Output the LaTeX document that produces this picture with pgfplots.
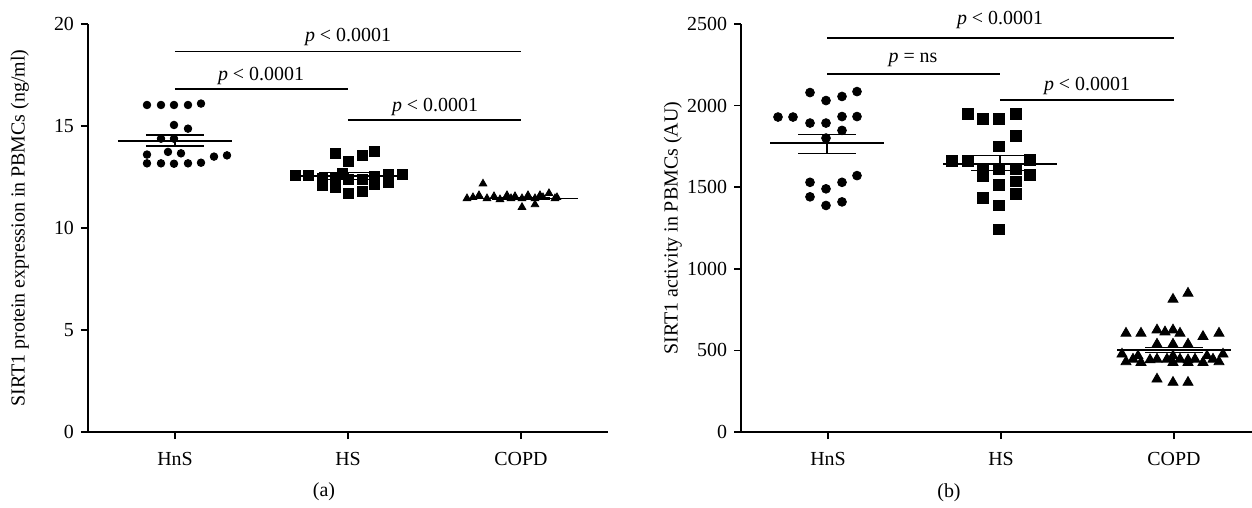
\documentclass[border=0pt]{standalone}
\usepackage{fontspec}
\setmainfont{Liberation Serif}
\usepackage{pgfplots}
\pgfplotsset{compat=1.18}

% x positions are in the panel's own units: HnS=175, HS=348, COPD=521
\pgfplotstableread{
x y
147 16.03
161 16.03
174 16.03
188 16.03
201 16.10
174 15.05
188 14.87
161 14.38
174 14.38
168 13.73
181 13.66
147 13.60
214 13.50
227 13.56
147 13.17
161 13.17
174 13.15
188 13.17
201 13.20
}\protHnS
\pgfplotstableread{
x y
295 12.60
308 12.60
322 12.45
322 12.10
335 13.65
335 12.42
335 11.97
342 12.66
348 13.28
348 12.38
348 11.70
362 13.58
362 12.38
362 11.81
374 13.77
374 12.55
374 12.14
388 12.63
388 12.22
402 12.63
}\protHS
\pgfplotstableread{
x y
467 11.45
473 11.50
479 11.60
483 12.17
487 11.45
494 11.55
500 11.40
507 11.60
511 11.45
515 11.55
522 11.45
522 11.02
528 11.60
535 11.45
535 11.15
540 11.60
543 11.50
549 11.70
555 11.45
557 11.50
}\protCOPD
\pgfplotstableread{
x y
157 2080
173 2031
189 2056
204 2086
125 1930
140 1930
157 1893
173 1893
189 1933
204 1933
189 1848
173 1801
157 1530
173 1490
189 1530
204 1571
157 1441
173 1388
189 1410
}\actHnS
\pgfplotstableread{
x y
315 1950
330 1917
346 1917
363 1950
363 1815
346 1750
299 1663
315 1663
377 1669
330 1608
346 1612
363 1612
330 1567
377 1577
346 1516
363 1536
363 1459
330 1435
346 1388
346 1241
}\actHS
\pgfplotstableread{
x y
520 813
535 850
473 605
488 605
504 625
512 613
520 625
527 605
550 585
566 605
504 538
520 538
535 538
469 477
480 446
485 466
497 442
504 446
514 446
520 466
527 446
535 442
542 446
554 466
560 446
570 477
473 430
488 426
520 426
535 426
550 426
566 430
504 324
520 304
535 304
}\actCOPD

\pgfplotsset{
  dotplot/.style={
    width=260bp, height=204bp, scale only axis,
    axis lines=left, axis line style={-, line width=0.75bp},
    xmin=88, xmax=608, xtick={175,348,521}, xticklabels={HnS,HS,COPD},
    tick align=outside, major tick length=3.5bp,
    tick style={line width=0.75bp, black},
    ymin=0, clip=false,
    font=\fontsize{10}{12}\selectfont,
    tick label style={font=\fontsize{10}{12}\selectfont},
    xticklabel style={yshift=-3bp},
    label style={font=\fontsize{10}{12}\selectfont},
    /pgf/number format/assume math mode=true,
    /pgf/number format/set thousands separator={},
    ylabel style={at={(axis description cs:-0.131,0.5)}, anchor=center},
  },
  bar/.style={black, line width=0.6bp, forget plot},
  meanl/.style={black, line width=0.8bp, forget plot},
}

\begin{document}
\begin{tikzpicture}
\useasboundingbox (-44bp,-38bp) rectangle (582bp,216bp);

% (a) protein expression
\begin{axis}[dotplot, ymax=20, ytick={0,5,10,15,20},
  ylabel={SIRT1 protein expression in PBMCs (ng/ml)}]
\addplot[meanl] coordinates {(118,14.27) (232,14.27)};
\addplot[bar] coordinates {(146,14.02) (204,14.02)};
\addplot[bar] coordinates {(146,14.56) (204,14.56)};
\addplot[bar] coordinates {(175,14.02) (175,14.56)};
\addplot[meanl] coordinates {(291,12.55) (405,12.55)};
\addplot[bar] coordinates {(319,12.39) (377,12.39)};
\addplot[bar] coordinates {(319,12.71) (377,12.71)};
\addplot[bar] coordinates {(348,12.39) (348,12.71)};
\addplot[meanl] coordinates {(464,11.45) (578,11.45)};
\addplot[bar] coordinates {(492,11.39) (550,11.39)};
\addplot[bar] coordinates {(492,11.51) (550,11.51)};

\addplot[only marks, mark=*, mark size=1.9bp, black] table {\protHnS};
\addplot[only marks, mark=square*, mark size=2.5bp, black] table {\protHS};
\addplot[only marks, mark=triangle*, mark size=2.2bp, black] table {\protCOPD};

\addplot[meanl] coordinates {(175,18.66) (521,18.66)};
\addplot[meanl] coordinates {(175,16.80) (348,16.80)};
\addplot[meanl] coordinates {(348,15.28) (521,15.28)};
\node[anchor=base] at (axis cs:348,19.14) {\textit{p} < 0.0001};
\node[anchor=base] at (axis cs:261,17.25) {\textit{p} < 0.0001};
\node[anchor=base] at (axis cs:435,15.72) {\textit{p} < 0.0001};
\node at (axis cs:324,-2.95) {(a)};
\end{axis}

% (b) activity
\begin{axis}[dotplot, at={(326.5bp,0)}, ymax=2500,
  ytick={0,500,1000,1500,2000,2500},
  ylabel={SIRT1 activity in PBMCs (AU)}]
\addplot[meanl] coordinates {(117,1771) (231,1771)};
\addplot[bar] coordinates {(145,1705) (203,1705)};
\addplot[bar] coordinates {(145,1822) (203,1822)};
\addplot[bar] coordinates {(174,1705) (174,1822)};
\addplot[meanl] coordinates {(290,1644) (404,1644)};
\addplot[bar] coordinates {(318,1603) (376,1603)};
\addplot[bar] coordinates {(318,1693) (376,1693)};
\addplot[bar] coordinates {(347,1603) (347,1693)};
\addplot[meanl] coordinates {(464,503) (578,503)};
\addplot[bar] coordinates {(492,487) (550,487)};
\addplot[bar] coordinates {(492,518) (550,518)};

\addplot[only marks, mark=*, mark size=2.2bp, black] table {\actHnS};
\addplot[only marks, mark=square*, mark size=2.7bp, black] table {\actHS};
\addplot[only marks, mark=triangle*, mark size=2.9bp, black] table {\actCOPD};

\addplot[meanl] coordinates {(174,2416) (521,2416)};
\addplot[meanl] coordinates {(174,2194) (347,2194)};
\addplot[meanl] coordinates {(347,2035) (521,2035)};
\node[anchor=base] at (axis cs:347,2494) {\textit{p} < 0.0001};
\node[anchor=base] at (axis cs:260,2262) {\textit{p} = ns};
\node[anchor=base] at (axis cs:434,2092) {\textit{p} < 0.0001};
\node at (axis cs:296,-369) {(b)};
\end{axis}
\end{tikzpicture}
\end{document}
